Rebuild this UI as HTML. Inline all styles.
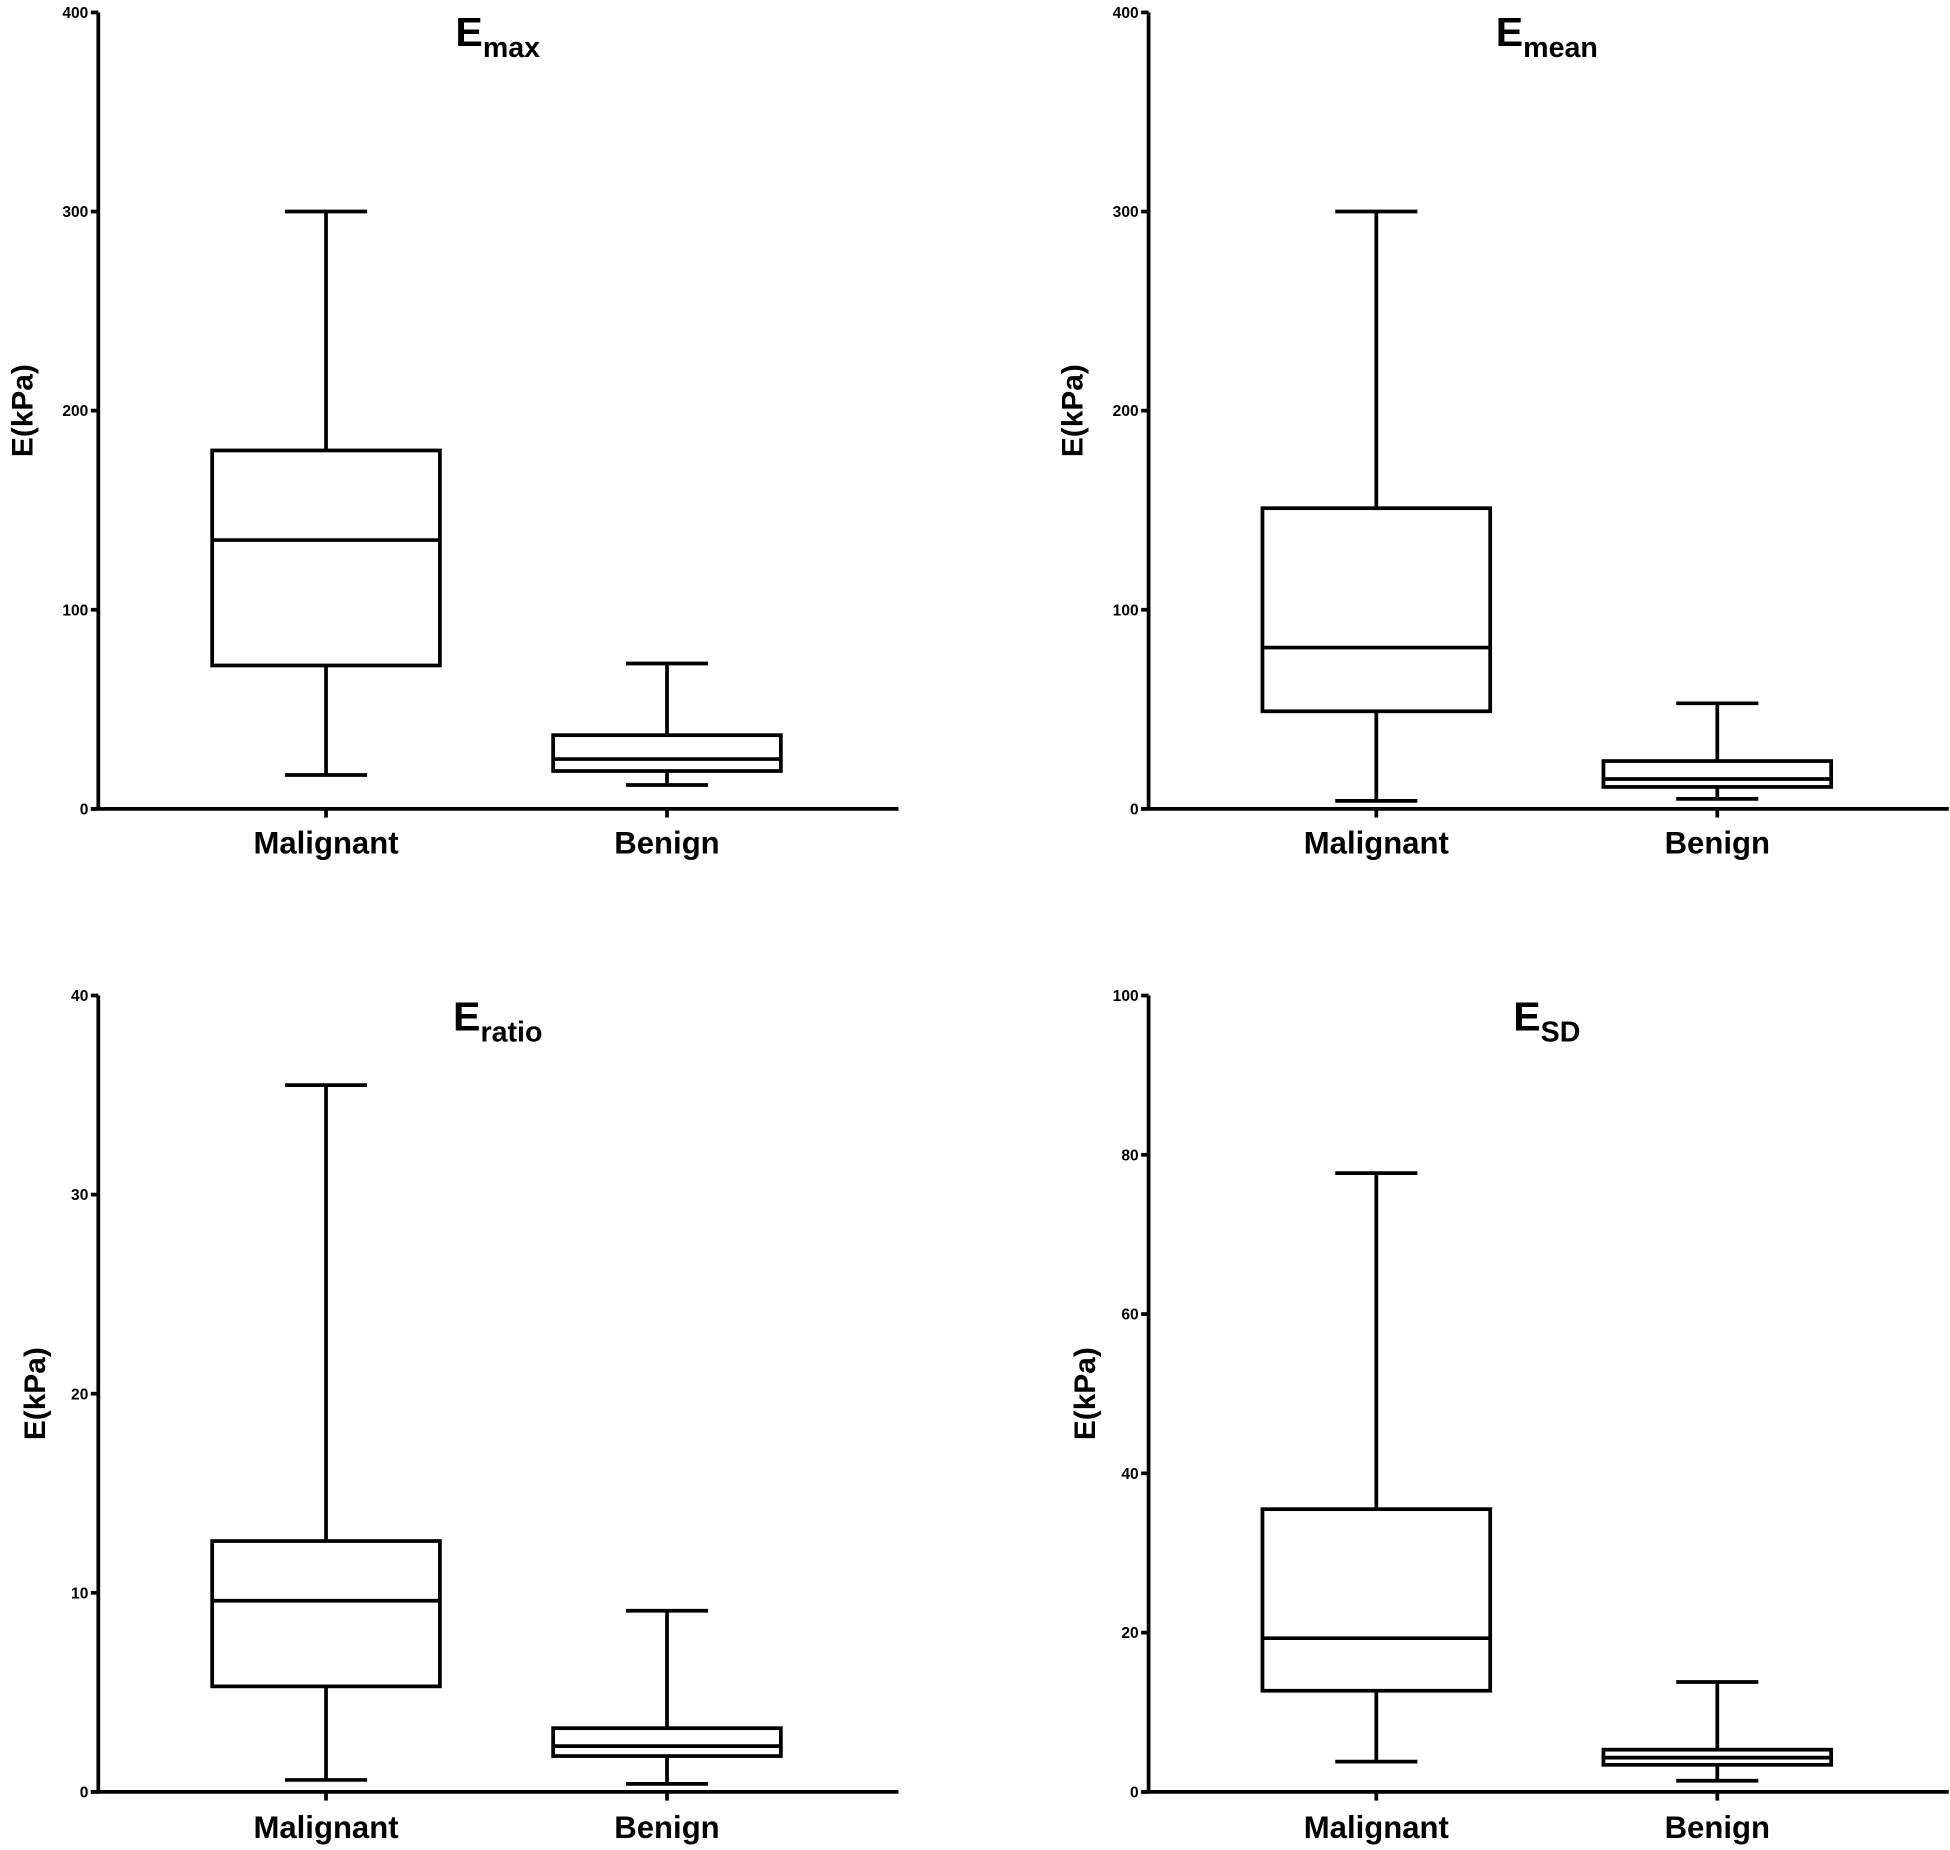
<!DOCTYPE html>
<html><head><meta charset="utf-8"><style>
html,body{margin:0;padding:0;background:#fff}
svg{display:block}
text{font-family:"Liberation Sans",Arial,sans-serif;font-weight:bold;fill:#000}
</style></head><body>
<svg id="fig" width="1950" height="1850" viewBox="0 0 1567 1486.7" preserveAspectRatio="none" xmlns="http://www.w3.org/2000/svg"></svg>
<script>
const categories = ["Malignant","Benign"];
const titlesMain = ["E","E","E","E"];
const titlesSub = ["max","mean","ratio","SD"];
const yMaxes = [400,400,40,100];
const tickLabels = [[0,100,200,300,400],[0,100,200,300,400],[0,10,20,30,40],[0,20,40,60,80,100]];
// [max, q3, median, q1, min]
const emaxMalignant = [300,180,135,72,17];
const emaxBenign = [73,37,25,19,12];
const emeanMalignant = [300,151,81,49,4];
const emeanBenign = [53,24,15,11,5];
const eratioMalignant = [35.5,12.6,9.6,5.3,0.6];
const eratioBenign = [9.1,3.2,2.3,1.8,0.4];
const esdMalignant = [77.7,35.5,19.3,12.7,3.8];
const esdBenign = [13.8,5.3,4.3,3.4,1.4];
const seriesData = [[emaxMalignant,emaxBenign],[emeanMalignant,emeanBenign],[eratioMalignant,eratioBenign],[esdMalignant,esdBenign]];

const NS="http://www.w3.org/2000/svg";
const svg=document.getElementById('fig');
function mk(tag,attrs,parent){const e=document.createElementNS(NS,tag);for(const k in attrs)e.setAttribute(k,attrs[k]);(parent||svg).appendChild(e);return e;}
const panels=[{ax:79,top:10,bot:650,right:722,cx:[262,536],tx:400,ty:37,labY:686,ytx:18,yty:330},
{ax:923,top:10,bot:650,right:1566,cx:[1106,1380],tx:1243,ty:37,labY:686,ytx:862,yty:330},
{ax:79,top:800,bot:1440,right:722,cx:[262,536],tx:400,ty:828,labY:1477,ytx:28,yty:1120},
{ax:923,top:800,bot:1440,right:1566,cx:[1106,1380],tx:1243,ty:828,labY:1477,ytx:872,yty:1120}];
const sw=3;
panels.forEach((p,i)=>{
  const g=mk('g',{});
  
  
  const y=v=>p.bot-(v/yMaxes[i])*(p.bot-p.top);
  const ya=mk('line',{x1:p.ax,y1:p.top,x2:p.ax,y2:p.bot,stroke:'#000','stroke-width':sw},g);
  
  
  const xa=mk('line',{x1:p.ax-6,y1:p.bot,x2:p.right,y2:p.bot,stroke:'#000','stroke-width':sw},g);
  
  
  tickLabels[i].forEach(t=>{
    mk('line',{x1:p.ax-6,y1:y(t),x2:p.ax,y2:y(t),stroke:'#000','stroke-width':sw},g);
    const tl=mk('text',{x:p.ax-8,y:y(t)+4.5,'text-anchor':'end','font-size':12.5},g);
    tl.textContent=t;
    
    
  });
  const yt=mk('text',{x:p.ytx,y:p.yty,'text-anchor':'middle','font-size':24,transform:`rotate(-90 ${p.ytx} ${p.yty}) translate(0 8)`},g);
  yt.textContent='E(kPa)';
  
  
  const tt=mk('text',{x:p.tx,y:p.ty,'text-anchor':'middle','font-size':33},g);
  
  
  const t1=mk('tspan',{},tt);t1.textContent=titlesMain[i];
  const t2=mk('tspan',{'font-size':23,dy:9},tt);t2.textContent=titlesSub[i];
  categories.forEach((c,j)=>{
    const cx=p.cx[j], d=seriesData[i][j];
    mk('line',{x1:cx,y1:p.bot,x2:cx,y2:p.bot+7,stroke:'#000','stroke-width':sw},g);
    const cl=mk('text',{x:cx,y:p.labY,'text-anchor':'middle','font-size':25},g);
    cl.textContent=c;
    
    
    const bg=mk('g',{fill:'none',stroke:'#000','stroke-width':sw},g);
    
    
    const hw=91.5, cw=33;
    mk('line',{x1:cx,y1:y(d[0]),x2:cx,y2:y(d[1])},bg);
    mk('line',{x1:cx,y1:y(d[3]),x2:cx,y2:y(d[4])},bg);
    mk('line',{x1:cx-cw,y1:y(d[0]),x2:cx+cw,y2:y(d[0])},bg);
    mk('line',{x1:cx-cw,y1:y(d[4]),x2:cx+cw,y2:y(d[4])},bg);
    mk('rect',{x:cx-hw,y:y(d[1]),width:2*hw,height:y(d[3])-y(d[1]),fill:'#fff'},bg);
    mk('line',{x1:cx-hw,y1:y(d[2]),x2:cx+hw,y2:y(d[2])},bg);
  });
});
</script>
</body></html>
